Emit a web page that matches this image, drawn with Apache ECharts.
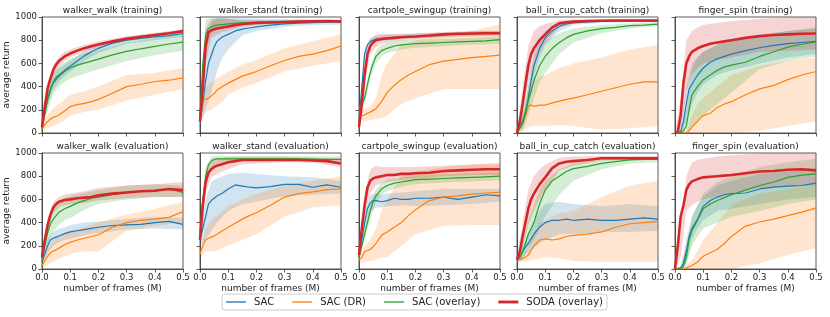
<!DOCTYPE html>
<html><head><meta charset="utf-8">
<script src="https://cdn.jsdelivr.net/npm/echarts@6/dist/echarts.min.js"></script>
<style>html,body{margin:0;padding:0;background:#fff}#c{width:830px;height:317px}</style>
</head><body><div id="c"></div>
<script>
// x positions (millions of frames) for mean curves and for band edges
const X  = [0, 0.01, 0.02, 0.03, 0.04, 0.05, 0.06, 0.08, 0.1, 0.125, 0.15, 0.175, 0.2, 0.25, 0.3, 0.35, 0.4, 0.45, 0.5];
const XB = [0, 0.02, 0.04, 0.06, 0.08, 0.1, 0.15, 0.2, 0.3, 0.4, 0.5];
const SERIES_NAMES = ['SAC', 'SAC (DR)', 'SAC (overlay)', 'SODA (overlay)'];
const TITLES = ['walker_walk (training)', 'walker_stand (training)', 'cartpole_swingup (training)', 'ball_in_cup_catch (training)', 'finger_spin (training)',
  'walker_walk (evaluation)', 'walker_stand (evaluation)', 'cartpole_swingup (evaluation)', 'ball_in_cup_catch (evaluation)', 'finger_spin (evaluation)'];

// walker_walk (training)
const ww_tr_sac  = [60, 170, 300, 380, 440, 480, 500, 540, 575, 620, 665, 700, 730, 775, 800, 815, 828, 840, 858];
const ww_tr_dr   = [40, 70, 100, 120, 135, 145, 155, 190, 228, 245, 256, 270, 290, 343, 400, 420, 444, 455, 475];
const ww_tr_ov   = [40, 170, 285, 370, 430, 460, 487, 530, 560, 585, 602, 620, 637, 674, 703, 726, 746, 767, 784];
const ww_tr_soda = [50, 228, 386, 470, 545, 590, 620, 660, 685, 710, 730, 748, 762, 790, 812, 830, 845, 860, 878];
const ww_tr_sac_lo  = [40, 230, 370, 440, 490, 530, 620, 690, 770, 800, 830];
const ww_tr_sac_hi  = [80, 370, 510, 560, 590, 620, 710, 770, 830, 855, 885];
const ww_tr_dr_lo   = [20, 40, 60, 80, 110, 150, 180, 200, 280, 330, 380];
const ww_tr_dr_hi   = [60, 160, 210, 250, 290, 330, 360, 400, 500, 520, 560];
const ww_tr_ov_lo   = [20, 200, 340, 400, 440, 470, 510, 550, 620, 670, 710];
const ww_tr_ov_hi   = [60, 370, 520, 580, 610, 640, 690, 720, 780, 820, 860];
const ww_tr_soda_lo = [30, 340, 500, 575, 620, 650, 700, 735, 790, 825, 860];
const ww_tr_soda_hi = [70, 430, 580, 660, 700, 720, 760, 790, 835, 865, 895];

// walker_stand (training)
const ws_tr_sac  = [100, 250, 450, 600, 670, 740, 790, 830, 850, 880, 895, 905, 915, 930, 940, 948, 952, 955, 955];
const ws_tr_dr   = [130, 290, 290, 300, 320, 340, 370, 400, 430, 460, 490, 510, 530, 580, 625, 660, 680, 710, 750];
const ws_tr_ov   = [120, 600, 850, 900, 915, 925, 930, 935, 940, 945, 950, 952, 955, 958, 960, 962, 963, 965, 965];
const ws_tr_soda = [100, 400, 750, 870, 885, 895, 900, 910, 918, 930, 940, 945, 948, 952, 956, 960, 963, 965, 962];
const ws_tr_sac_lo  = [80, 200, 350, 530, 650, 720, 840, 880, 915, 930, 935];
const ws_tr_sac_hi  = [120, 750, 950, 990, 995, 995, 990, 985, 980, 978, 975];
const ws_tr_dr_lo   = [80, 180, 200, 240, 270, 330, 390, 430, 530, 580, 620];
const ws_tr_dr_hi   = [200, 400, 430, 470, 500, 530, 590, 630, 730, 790, 850];
const ws_tr_ov_lo   = [80, 700, 860, 890, 905, 915, 930, 940, 950, 952, 955];
const ws_tr_ov_hi   = [160, 980, 990, 990, 985, 980, 975, 975, 975, 975, 975];
const ws_tr_soda_lo = [70, 600, 820, 850, 870, 880, 915, 930, 945, 952, 950];
const ws_tr_soda_hi = [130, 900, 980, 990, 990, 985, 970, 968, 968, 972, 975];

// cartpole_swingup (training)
const cp_tr_sac  = [100, 400, 680, 760, 790, 800, 810, 815, 820, 825, 828, 830, 832, 840, 848, 853, 857, 860, 862];
const cp_tr_dr   = [160, 150, 155, 170, 180, 195, 210, 270, 350, 410, 460, 500, 530, 590, 620, 635, 650, 660, 672];
const cp_tr_ov   = [200, 250, 300, 420, 520, 600, 660, 710, 730, 750, 760, 765, 770, 775, 780, 785, 790, 795, 805];
const cp_tr_soda = [50, 250, 500, 680, 750, 780, 800, 810, 815, 820, 825, 830, 832, 840, 850, 855, 858, 860, 860];
const cp_tr_sac_lo  = [70, 630, 760, 785, 795, 800, 810, 815, 830, 840, 845];
const cp_tr_sac_hi  = [130, 730, 820, 835, 840, 845, 850, 855, 865, 875, 880];
const cp_tr_dr_lo   = [120, 100, 110, 120, 130, 150, 250, 300, 380, 380, 380];
const cp_tr_dr_hi   = [200, 210, 230, 300, 500, 600, 760, 800, 840, 880, 940];
const cp_tr_ov_lo   = [160, 250, 470, 600, 660, 690, 720, 735, 750, 760, 770];
const cp_tr_ov_hi   = [240, 350, 570, 710, 760, 780, 800, 805, 810, 820, 835];
const cp_tr_soda_lo = [30, 420, 680, 740, 770, 780, 795, 805, 825, 835, 838];
const cp_tr_soda_hi = [70, 580, 810, 850, 855, 855, 855, 860, 870, 880, 882];

// ball_in_cup_catch (training)
const bc_tr_sac  = [30, 60, 100, 180, 300, 450, 580, 730, 820, 880, 920, 940, 950, 958, 962, 964, 965, 965, 965];
const bc_tr_dr   = [20, 50, 80, 150, 230, 240, 230, 240, 240, 260, 275, 290, 300, 330, 360, 390, 420, 440, 440];
const bc_tr_ov   = [0, 40, 80, 170, 280, 360, 450, 580, 660, 730, 780, 820, 850, 880, 900, 910, 925, 930, 938];
const bc_tr_soda = [0, 100, 250, 420, 580, 680, 730, 800, 850, 910, 945, 955, 960, 965, 968, 970, 970, 970, 970];
const bc_tr_sac_lo  = [10, 50, 200, 480, 650, 760, 880, 930, 950, 955, 955];
const bc_tr_sac_hi  = [50, 150, 400, 680, 810, 880, 955, 970, 975, 975, 975];
const bc_tr_dr_lo   = [0, 20, 50, 60, 60, 60, 70, 60, 30, 40, 60];
const bc_tr_dr_hi   = [40, 150, 350, 450, 480, 500, 560, 600, 650, 720, 760];
const bc_tr_ov_lo   = [0, 20, 150, 300, 430, 520, 680, 780, 860, 900, 920];
const bc_tr_ov_hi   = [20, 150, 420, 600, 720, 790, 860, 900, 930, 945, 955];
const bc_tr_soda_lo = [0, 150, 430, 600, 700, 780, 910, 945, 960, 962, 962];
const bc_tr_soda_hi = [20, 400, 750, 880, 920, 940, 975, 980, 980, 980, 980];

// finger_spin (training)
const fs_tr_sac  = [0, 5, 10, 100, 250, 380, 420, 500, 560, 610, 640, 660, 680, 710, 735, 755, 770, 780, 790];
const fs_tr_dr   = [0, 0, 0, 0, 0, 20, 50, 100, 150, 170, 220, 250, 270, 330, 380, 410, 460, 500, 530];
const fs_tr_ov   = [0, 0, 5, 20, 60, 200, 330, 400, 460, 500, 540, 570, 585, 610, 660, 700, 740, 765, 785];
const fs_tr_soda = [0, 10, 150, 430, 600, 660, 700, 730, 750, 770, 780, 790, 800, 820, 835, 845, 850, 855, 858];
const fs_tr_sac_lo  = [0, 0, 100, 250, 350, 420, 500, 540, 600, 650, 680];
const fs_tr_sac_hi  = [0, 30, 400, 600, 650, 700, 760, 800, 850, 880, 900];
const fs_tr_dr_lo   = [0, 0, 0, 0, 0, 0, 0, 0, 20, 60, 100];
const fs_tr_dr_hi   = [0, 0, 0, 150, 250, 300, 400, 500, 580, 620, 650];
const fs_tr_ov_lo   = [0, 0, 0, 50, 100, 150, 250, 350, 550, 620, 660];
const fs_tr_ov_hi   = [0, 10, 200, 550, 650, 700, 760, 800, 840, 880, 910];
const fs_tr_soda_lo = [0, 0, 350, 500, 560, 600, 630, 650, 700, 710, 720];
const fs_tr_soda_hi = [0, 300, 800, 880, 910, 930, 950, 965, 985, 995, 1000];

// walker_walk (evaluation)
const ww_ev_sac  = [60, 130, 200, 250, 265, 275, 285, 305, 320, 330, 340, 350, 360, 375, 380, 385, 400, 410, 385];
const ww_ev_dr   = [30, 70, 110, 140, 155, 165, 180, 210, 230, 250, 265, 280, 295, 360, 400, 420, 430, 445, 495];
const ww_ev_ov   = [80, 200, 310, 390, 430, 460, 490, 520, 540, 570, 590, 610, 620, 640, 660, 670, 675, 690, 660];
const ww_ev_soda = [100, 250, 380, 470, 530, 560, 580, 595, 600, 610, 615, 620, 635, 650, 660, 670, 675, 690, 680];
const ww_ev_sac_lo  = [30, 140, 200, 230, 250, 260, 290, 310, 340, 350, 340];
const ww_ev_sac_hi  = [90, 260, 320, 350, 360, 380, 400, 410, 430, 450, 440];
const ww_ev_dr_lo   = [0, 40, 60, 90, 110, 130, 150, 150, 330, 370, 400];
const ww_ev_dr_hi   = [60, 180, 250, 280, 310, 330, 360, 400, 470, 520, 580];
const ww_ev_ov_lo   = [40, 220, 320, 380, 420, 440, 510, 560, 600, 620, 620];
const ww_ev_ov_hi   = [120, 400, 530, 580, 610, 630, 660, 680, 720, 730, 720];
const ww_ev_soda_lo = [60, 330, 480, 530, 550, 560, 570, 590, 610, 620, 620];
const ww_ev_soda_hi = [140, 430, 580, 620, 640, 650, 670, 700, 720, 730, 750];

// walker_stand (evaluation)
const ws_ev_sac  = [250, 350, 450, 560, 590, 610, 630, 655, 690, 725, 715, 705, 700, 710, 730, 730, 705, 725, 705];
const ws_ev_dr   = [130, 200, 250, 265, 275, 285, 300, 330, 360, 395, 430, 460, 485, 550, 620, 650, 665, 685, 690];
const ws_ev_ov   = [300, 600, 800, 900, 930, 945, 950, 950, 950, 950, 950, 950, 950, 950, 950, 950, 948, 945, 945];
const ws_ev_soda = [250, 550, 750, 830, 860, 880, 890, 905, 920, 930, 940, 940, 940, 940, 940, 940, 935, 930, 910];
const ws_ev_sac_lo  = [200, 250, 330, 400, 450, 500, 560, 580, 630, 640, 650];
const ws_ev_sac_hi  = [300, 600, 750, 780, 800, 820, 830, 820, 800, 790, 760];
const ws_ev_dr_lo   = [100, 150, 150, 160, 180, 200, 250, 300, 450, 530, 550];
const ws_ev_dr_hi   = [160, 350, 420, 460, 500, 540, 600, 650, 720, 760, 800];
const ws_ev_ov_lo   = [250, 700, 880, 910, 920, 930, 935, 935, 935, 930, 925];
const ws_ev_ov_hi   = [350, 880, 970, 975, 975, 975, 975, 975, 975, 970, 970];
const ws_ev_soda_lo = [200, 650, 790, 820, 840, 860, 900, 910, 920, 915, 880];
const ws_ev_soda_hi = [300, 850, 920, 950, 960, 965, 965, 965, 965, 960, 950];

// cartpole_swingup (evaluation)
const cp_ev_sac  = [100, 250, 400, 520, 570, 590, 590, 580, 590, 610, 600, 600, 610, 610, 620, 600, 620, 640, 630];
const cp_ev_dr   = [80, 100, 150, 160, 170, 190, 220, 290, 320, 360, 400, 460, 510, 590, 620, 630, 645, 655, 660];
const cp_ev_ov   = [100, 200, 300, 400, 500, 580, 630, 690, 720, 740, 750, 760, 770, 775, 780, 785, 790, 795, 800];
const cp_ev_soda = [120, 350, 550, 700, 760, 780, 790, 800, 810, 810, 820, 820, 825, 830, 845, 850, 855, 860, 860];
const cp_ev_sac_lo  = [70, 330, 500, 530, 530, 540, 550, 540, 550, 560, 580];
const cp_ev_sac_hi  = [130, 470, 640, 650, 640, 650, 660, 670, 690, 690, 690];
const cp_ev_dr_lo   = [50, 60, 70, 80, 100, 100, 200, 300, 370, 380, 380];
const cp_ev_dr_hi   = [110, 200, 250, 350, 500, 600, 800, 840, 880, 900, 920];
const cp_ev_ov_lo   = [70, 250, 430, 570, 640, 670, 710, 730, 745, 755, 765];
const cp_ev_ov_hi   = [130, 350, 570, 690, 740, 770, 790, 805, 815, 825, 835];
const cp_ev_soda_lo = [80, 450, 650, 720, 740, 750, 770, 780, 800, 810, 810];
const cp_ev_soda_hi = [160, 650, 860, 890, 880, 880, 880, 880, 890, 900, 905];

// ball_in_cup_catch (evaluation)
const bc_ev_sac  = [80, 100, 150, 190, 220, 260, 300, 360, 400, 420, 420, 430, 420, 430, 420, 420, 430, 440, 430];
const bc_ev_dr   = [80, 85, 90, 100, 120, 160, 200, 250, 260, 250, 260, 280, 290, 300, 320, 360, 390, 400, 410];
const bc_ev_ov   = [80, 110, 150, 220, 300, 350, 400, 560, 680, 760, 800, 840, 865, 885, 910, 925, 940, 945, 945];
const bc_ev_soda = [80, 150, 280, 400, 520, 600, 650, 730, 790, 870, 910, 925, 930, 940, 955, 955, 955, 955, 955];
const bc_ev_sac_lo  = [60, 100, 140, 180, 220, 250, 300, 300, 320, 320, 330];
const bc_ev_sac_hi  = [100, 200, 300, 420, 500, 560, 580, 560, 540, 560, 540];
const bc_ev_dr_lo   = [60, 60, 70, 80, 90, 100, 90, 70, 60, 60, 60];
const bc_ev_dr_hi   = [100, 120, 180, 300, 400, 420, 480, 500, 620, 720, 760];
const bc_ev_ov_lo   = [50, 80, 180, 250, 350, 450, 640, 760, 860, 910, 920];
const bc_ev_ov_hi   = [100, 220, 420, 550, 680, 760, 860, 910, 945, 960, 965];
const bc_ev_soda_lo = [60, 180, 380, 500, 600, 680, 850, 890, 935, 940, 940];
const bc_ev_soda_hi = [100, 400, 680, 800, 860, 900, 960, 970, 975, 975, 975];

// finger_spin (evaluation)
const fs_ev_sac  = [0, 5, 10, 50, 150, 280, 350, 430, 540, 590, 620, 640, 650, 655, 690, 705, 715, 720, 740];
const fs_ev_dr   = [0, 0, 0, 0, 10, 20, 30, 60, 110, 140, 170, 220, 280, 370, 405, 430, 460, 490, 525];
const fs_ev_ov   = [0, 0, 5, 20, 100, 250, 330, 420, 520, 560, 590, 615, 640, 680, 720, 750, 790, 810, 820];
const fs_ev_soda = [0, 200, 450, 550, 680, 730, 755, 775, 790, 795, 800, 805, 810, 825, 840, 845, 855, 860, 850];
const fs_ev_sac_lo  = [0, 0, 50, 250, 350, 420, 500, 520, 560, 600, 620];
const fs_ev_sac_hi  = [0, 20, 250, 450, 550, 620, 720, 760, 820, 840, 860];
const fs_ev_dr_lo   = [0, 0, 0, 0, 0, 0, 0, 0, 50, 120, 180];
const fs_ev_dr_hi   = [0, 0, 30, 80, 150, 250, 400, 550, 650, 690, 720];
const fs_ev_ov_lo   = [0, 0, 30, 200, 280, 350, 400, 450, 500, 560, 600];
const fs_ev_ov_hi   = [0, 10, 200, 450, 550, 650, 750, 800, 880, 920, 950];
const fs_ev_soda_lo = [0, 100, 500, 550, 580, 600, 630, 650, 700, 710, 720];
const fs_ev_soda_hi = [0, 350, 800, 920, 940, 950, 970, 980, 995, 1000, 1000];

const PANELS = [
  {mean: [ww_tr_sac, ww_tr_dr, ww_tr_ov, ww_tr_soda], lo: [ww_tr_sac_lo, ww_tr_dr_lo, ww_tr_ov_lo, ww_tr_soda_lo], hi: [ww_tr_sac_hi, ww_tr_dr_hi, ww_tr_ov_hi, ww_tr_soda_hi]},
  {mean: [ws_tr_sac, ws_tr_dr, ws_tr_ov, ws_tr_soda], lo: [ws_tr_sac_lo, ws_tr_dr_lo, ws_tr_ov_lo, ws_tr_soda_lo], hi: [ws_tr_sac_hi, ws_tr_dr_hi, ws_tr_ov_hi, ws_tr_soda_hi]},
  {mean: [cp_tr_sac, cp_tr_dr, cp_tr_ov, cp_tr_soda], lo: [cp_tr_sac_lo, cp_tr_dr_lo, cp_tr_ov_lo, cp_tr_soda_lo], hi: [cp_tr_sac_hi, cp_tr_dr_hi, cp_tr_ov_hi, cp_tr_soda_hi]},
  {mean: [bc_tr_sac, bc_tr_dr, bc_tr_ov, bc_tr_soda], lo: [bc_tr_sac_lo, bc_tr_dr_lo, bc_tr_ov_lo, bc_tr_soda_lo], hi: [bc_tr_sac_hi, bc_tr_dr_hi, bc_tr_ov_hi, bc_tr_soda_hi]},
  {mean: [fs_tr_sac, fs_tr_dr, fs_tr_ov, fs_tr_soda], lo: [fs_tr_sac_lo, fs_tr_dr_lo, fs_tr_ov_lo, fs_tr_soda_lo], hi: [fs_tr_sac_hi, fs_tr_dr_hi, fs_tr_ov_hi, fs_tr_soda_hi]},
  {mean: [ww_ev_sac, ww_ev_dr, ww_ev_ov, ww_ev_soda], lo: [ww_ev_sac_lo, ww_ev_dr_lo, ww_ev_ov_lo, ww_ev_soda_lo], hi: [ww_ev_sac_hi, ww_ev_dr_hi, ww_ev_ov_hi, ww_ev_soda_hi]},
  {mean: [ws_ev_sac, ws_ev_dr, ws_ev_ov, ws_ev_soda], lo: [ws_ev_sac_lo, ws_ev_dr_lo, ws_ev_ov_lo, ws_ev_soda_lo], hi: [ws_ev_sac_hi, ws_ev_dr_hi, ws_ev_ov_hi, ws_ev_soda_hi]},
  {mean: [cp_ev_sac, cp_ev_dr, cp_ev_ov, cp_ev_soda], lo: [cp_ev_sac_lo, cp_ev_dr_lo, cp_ev_ov_lo, cp_ev_soda_lo], hi: [cp_ev_sac_hi, cp_ev_dr_hi, cp_ev_ov_hi, cp_ev_soda_hi]},
  {mean: [bc_ev_sac, bc_ev_dr, bc_ev_ov, bc_ev_soda], lo: [bc_ev_sac_lo, bc_ev_dr_lo, bc_ev_ov_lo, bc_ev_soda_lo], hi: [bc_ev_sac_hi, bc_ev_dr_hi, bc_ev_ov_hi, bc_ev_soda_hi]},
  {mean: [fs_ev_sac, fs_ev_dr, fs_ev_ov, fs_ev_soda], lo: [fs_ev_sac_lo, fs_ev_dr_lo, fs_ev_ov_lo, fs_ev_soda_lo], hi: [fs_ev_sac_hi, fs_ev_dr_hi, fs_ev_ov_hi, fs_ev_soda_hi]}
];

// ---- styling / layout ----
const COLORS = ['#1f77b4', '#ff7f0e', '#2ca02c', '#d62728'];
const WIDTHS = [1.2, 1.2, 1.2, 2.6];
const FONT = 'DejaVu Sans';
const TXT = '#222';
const LEFTS = [42, 200, 359, 517, 675];
const TOPS = [17, 153];
const PW = 141, PH = 116;

const grids = [], xAxes = [], yAxes = [], titles = [], series = [];
PANELS.forEach((p, g) => {
  const row = Math.floor(g / 5), col = g % 5;
  grids.push({left: LEFTS[col], top: TOPS[row], width: PW, height: PH, show: true,
    borderColor: '#333', borderWidth: 0.8, backgroundColor: 'transparent', containLabel: false});
  xAxes.push({type: 'value', gridIndex: g, min: 0, max: 0.5, interval: 0.1,
    axisLine: {show: true, onZero: false, lineStyle: {color: '#333', width: 0.8}},
    axisTick: {show: true, length: 3.5, lineStyle: {color: '#333', width: 0.8}},
    splitLine: {show: false},
    axisLabel: {show: row === 1, fontSize: 8.5, fontFamily: FONT, color: TXT, margin: 4,
      formatter: v => v.toFixed(1)},
    name: row === 1 ? 'number of frames (M)' : '', nameLocation: 'middle', nameGap: 15,
    nameTextStyle: {fontSize: 9, fontFamily: FONT, color: TXT}});
  yAxes.push({type: 'value', gridIndex: g, min: 0, max: 1000, interval: 200,
    axisLine: {show: true, onZero: false, lineStyle: {color: '#333', width: 0.8}},
    axisTick: {show: true, length: 3.5, lineStyle: {color: '#333', width: 0.8}},
    splitLine: {show: false},
    axisLabel: {show: col === 0, fontSize: 8.5, fontFamily: FONT, color: TXT, margin: 5,
      formatter: v => String(v)},
    name: col === 0 ? 'average return' : '', nameLocation: 'middle', nameGap: 26,
    nameTextStyle: {fontSize: 9, fontFamily: FONT, color: TXT}});
  titles.push({text: TITLES[g], left: LEFTS[col] + PW / 2, top: TOPS[row] - 11, textAlign: 'center', padding: 0,
    textStyle: {fontSize: 9, fontWeight: 'normal', fontFamily: FONT, color: TXT}});
  // bands
  for (let s = 0; s < 4; s++) {
    const lo = p.lo[s], hi = p.hi[s], color = COLORS[s];
    series.push({type: 'custom', xAxisIndex: g, yAxisIndex: g, silent: true, z: 1,
      data: [[XB[0], lo[0]]], encode: {x: 0, y: 1},
      renderItem: function (params, api) {
        const pts = [];
        for (let i = 0; i < XB.length; i++) pts.push(api.coord([XB[i], lo[i]]));
        for (let i = XB.length - 1; i >= 0; i--) pts.push(api.coord([XB[i], hi[i]]));
        return {type: 'polygon', shape: {points: pts}, style: {fill: color, opacity: 0.2}};
      }});
  }
  // mean lines
  for (let s = 0; s < 4; s++) {
    series.push({type: 'line', name: SERIES_NAMES[s], xAxisIndex: g, yAxisIndex: g,
      data: X.map((x, i) => [x, p.mean[s][i]]), symbol: 'none', silent: true, z: 2 + s,
      lineStyle: {color: COLORS[s], width: WIDTHS[s]}, itemStyle: {color: COLORS[s]}});
  }
});

// legend icons: plain horizontal strokes (thickness follows the line width)
function lineIcon(w) {
  const a = (5 - w / 2).toFixed(2), b = (5 + w / 2).toFixed(2);
  return 'path://M0,0M20,10M0,' + a + 'L20,' + a + 'L20,' + b + 'L0,' + b + 'Z';
}

const chart = echarts.init(document.getElementById('c'), null, {renderer: 'canvas'});
chart.setOption({
  animation: false,
  backgroundColor: '#fff',
  title: titles,
  grid: grids,
  xAxis: xAxes,
  yAxis: yAxes,
  legend: {data: SERIES_NAMES.map((n, i) => ({name: n, icon: lineIcon(WIDTHS[i] * 1.1)})),
    left: 222, top: 294, orient: 'horizontal',
    itemWidth: 20, itemHeight: 10, itemGap: 18, padding: [3, 4],
    itemStyle: {borderWidth: 0},
    borderColor: '#ccc', borderWidth: 1, borderRadius: 3, backgroundColor: '#fff',
    textStyle: {fontSize: 10, fontFamily: FONT, color: TXT, padding: [0, 0, 0, 3]}},
  series: series
});
</script></body></html>
